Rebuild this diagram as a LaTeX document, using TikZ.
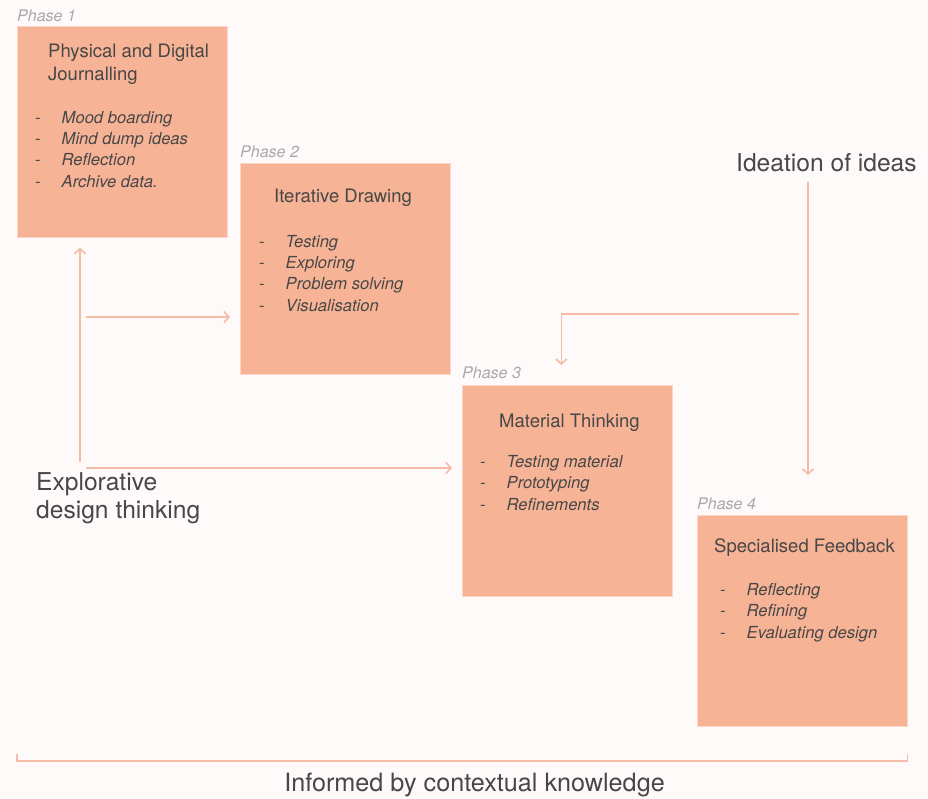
\documentclass[tikz,border=0pt]{standalone}
\usepackage{fontspec}
\setmainfont{TeX Gyre Heros}
\usetikzlibrary{arrows.meta,positioning}

\definecolor{notefill}{HTML}{F7B396}
\definecolor{flowline}{HTML}{F4BBA5}
\definecolor{paper}{HTML}{FEFAF9}
\definecolor{inktext}{HTML}{474747}
\definecolor{phasegray}{HTML}{A9A9A9}

% one line of a sticky note list
\newcommand{\listdash}[1]{\makebox[26.5pt][l]{-}\textit{#1}}

\begin{document}
\begin{tikzpicture}[x=1pt, y=-1pt,
  phasebox/.style={fill=notefill, draw=notefill!55!white, line width=0.6pt, anchor=north west,
    minimum width=210pt, minimum height=211pt, inner sep=0pt},
  phasetag/.style={anchor=base west, inner sep=0pt, text=phasegray,
    font=\fontsize{16}{19}\selectfont\itshape},
  notetitle/.style={anchor=base west, inner sep=0pt, text=inktext, align=left,
    font=\fontsize{18.5}{23.5}\selectfont},
  notelist/.style={anchor=base west, inner sep=0pt, text=inktext, align=left,
    font=\fontsize{16.6}{21.3}\selectfont},
  bigtext/.style={inner sep=0pt, text=inktext, font=\fontsize{24.6}{28}\selectfont},
  flow/.style={draw=flowline, line width=1.6pt, -{Straight Barb[length=5pt,width=11pt]}}]

\fill[paper] (0,0) rectangle (928,798);
\useasboundingbox (0,0) rectangle (928,798);

% the four phases (text nodes sit on the baseline of their last line)
\node[phasebox] (box1) at (17,26) {};
\node[phasetag] (tag1) at ([shift={(0,-5)}]box1.north west) {Phase 1};
\node[notetitle] (title1) at ([shift={(31,54.5)}]box1.north west) {Physical and Digital\\Journalling};
\node[notelist] (list1) at ([shift={(18,161)}]box1.north west)
  {\listdash{Mood boarding}\\\listdash{Mind dump ideas}\\\listdash{Reflection}\\\listdash{Archive data.}};

\node[phasebox] (box2) at (240,163) {};
\node[phasetag] (tag2) at ([shift={(0,-6)}]box2.north west) {Phase 2};
\node[notetitle] (title2) at ([shift={(34,39)}]box2.north west) {Iterative Drawing};
\node[notelist] (list2) at ([shift={(19,148)}]box2.north west)
  {\listdash{Testing}\\\listdash{Exploring}\\\listdash{Problem solving}\\\listdash{Visualisation}};

\node[phasebox] (box3) at (462,385) {};
\node[phasetag] (tag3) at ([shift={(0,-7)}]box3.north west) {Phase 3};
\node[notetitle] (title3) at ([shift={(37,42)}]box3.north west) {Material Thinking};
\node[notelist] (list3) at ([shift={(18,125)}]box3.north west)
  {\listdash{Testing material}\\\listdash{Prototyping}\\\listdash{Refinements}};

\node[phasebox] (box4) at (697,515) {};
\node[phasetag] (tag4) at ([shift={(0,-6)}]box4.north west) {Phase 4};
\node[notetitle] (title4) at ([shift={(17,37)}]box4.north west) {Specialised Feedback};
\node[notelist] (list4) at ([shift={(23,123)}]box4.north west)
  {\listdash{Reflecting}\\\listdash{Refining}\\\listdash{Evaluating design}};

% explorative branch
\node[bigtext, anchor=base west, align=left] (explore) at (36,518) {Explorative\\design thinking};
\coordinate (exploreroot) at (80,462);
\coordinate (sketchfork) at (86,317);
\coordinate (makefork) at (86,468);
\draw[flow, shorten >=10pt] (exploreroot) -- (exploreroot |- box1.south);
\draw[flow, shorten >=10pt] (sketchfork) -- (sketchfork -| box2.west);
\draw[flow, shorten >=10pt] (makefork) -- (makefork -| box3.west);

% ideation branch
\node[bigtext, anchor=base west] (ideation) at (736,171) {Ideation of ideas};
\coordinate (idearoot) at (808,182);
\coordinate (ideafork) at (799,314);
\draw[flow, shorten >=40pt] (idearoot) -- (idearoot |- box4.north);
\draw[flow, shorten >=20pt] (ideafork) -| ([xshift=-6pt]box3.north);

% bracket along the bottom
\draw[draw=flowline, line width=1.6pt] (box1.west |- 0,754) |- (box4.east |- 0,761) -- (box4.east |- 0,754);
\node[bigtext, anchor=base, font=\fontsize{25.2}{28}\selectfont] (context) at (474.5,791) {Informed by contextual knowledge};
\end{tikzpicture}
\end{document}
